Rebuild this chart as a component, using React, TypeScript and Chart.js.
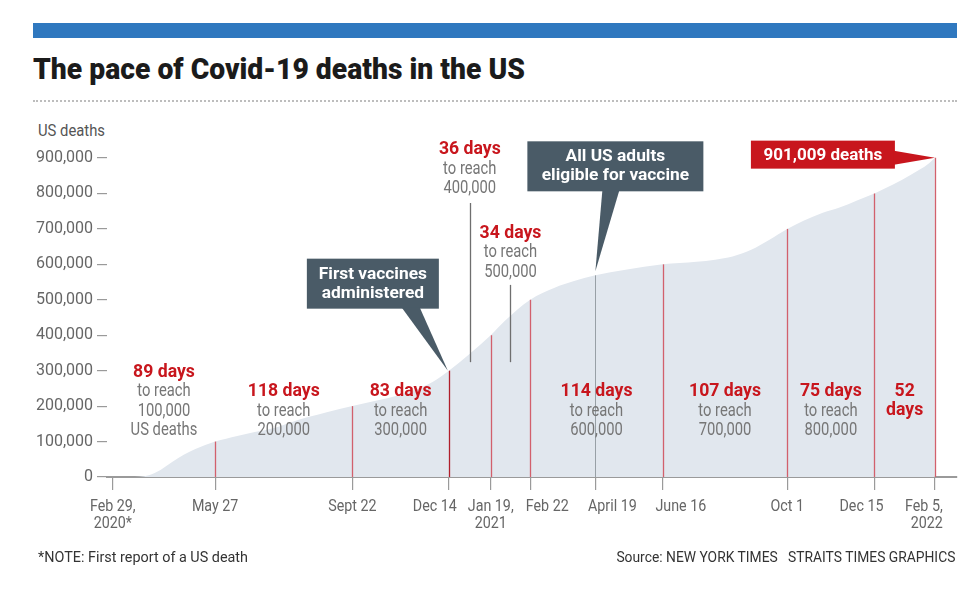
import React, { useEffect, useLayoutEffect, useRef } from "react";
import { Chart, registerables } from "chart.js";

Chart.register(...registerables);

// Days counted from Feb 29, 2020 (first reported US death)
const dayOffsets = [0, 15, 31, 41, 51, 61, 71, 88, 107, 122, 137, 153, 168, 184, 206, 229, 245, 260, 275, 289, 306, 325, 337, 359, 380, 396, 415, 441, 473, 502, 518, 533, 549, 564, 580, 594, 610, 625, 640, 655, 671, 686, 702, 707];
const cumulativeDeaths = [0, 70, 5100, 20000, 42000, 63000, 79000, 100000, 116000, 127000, 137000, 154000, 169000, 183000, 200000, 217000, 230000, 246000, 268000, 300000, 345000, 400000, 440000, 500000, 534000, 552000, 569000, 585000, 600000, 607000, 613000, 622000, 641000, 668000, 700000, 723000, 745000, 760000, 780000, 800000, 825000, 852000, 885000, 901009];

const tickDays = [0, 88, 206, 289, 325, 359, 415, 473, 580, 655, 707];
const tickLabels = [["Feb 29,", "2020*"], ["May 27"], ["Sept 22"], ["Dec 14"], ["Jan 19,", "2021"], ["Feb 22"], ["April 19"], ["June 16"], ["Oct 1"], ["Dec 15"], ["Feb 5,", "2022"]];
const yTickValues = [0, 100000, 200000, 300000, 400000, 500000, 600000, 700000, 800000, 900000];

const milestoneDays = [0, 88, 206, 289, 325, 359, 473, 580, 655, 707];
const milestoneValues = [0, 100000, 200000, 300000, 400000, 500000, 600000, 700000, 800000, 901009];
const paceDays = ["89 days", "118 days", "83 days", "36 days", "34 days", "114 days", "107 days", "75 days", "52"];
const paceTexts = [["to reach", "100,000", "US deaths"], ["to reach", "200,000"], ["to reach", "300,000"], ["to reach", "400,000"], ["to reach", "500,000"], ["to reach", "600,000"], ["to reach", "700,000"], ["to reach", "800,000"], ["days"]];

const firstVaccineDay = 289;
const firstVaccineValue = 300000;
const adultsEligibleDay = 415;
const adultsEligibleValue = 569000;
const latestDay = 707;
const latestValue = 901009;
const latestLabel = "901,009 deaths";

const FONT = "Roboto, 'Liberation Sans', sans-serif";
const RED = "#c8161d";
const SLATE = "#4a5b67";
const GRAY_TEXT = "#767676";
const AXIS_GRAY = "#9a9a9a";

function condensedText(ctx: any, text: string, x: number, y: number, font: string, color: string, sx: number, align: string) {
  ctx.save();
  ctx.font = font;
  ctx.fillStyle = color;
  ctx.textBaseline = "middle";
  ctx.textAlign = "left";
  const w = ctx.measureText(text).width * sx;
  const left = align === "center" ? x - w / 2 : align === "right" ? x - w : x;
  ctx.translate(left, y);
  ctx.scale(sx, 1);
  ctx.fillText(text, 0, 0);
  ctx.restore();
}

const annotationPlugin = {
  id: "annotations",
  afterDatasetsDraw(chart: any) {
    const { ctx, scales } = chart;
    const xs = scales.x;
    const ys = scales.y;
    const X = (d: number) => xs.getPixelForValue(d);
    const Y = (v: number) => ys.getPixelForValue(v);
    ctx.save();

    // milestone vertical lines
    for (let i = 1; i < milestoneDays.length; i++) {
      const px = Math.round(X(milestoneDays[i])) + 0.5;
      ctx.strokeStyle = milestoneDays[i] === firstVaccineDay ? "#b01f2b" : "#d2606c";
      ctx.lineWidth = 1.3;
      ctx.beginPath();
      ctx.moveTo(px, Y(0));
      ctx.lineTo(px, Y(milestoneValues[i]));
      ctx.stroke();
    }
    // April 19 gray line
    {
      const px = Math.round(X(adultsEligibleDay)) + 0.5;
      ctx.strokeStyle = "#98a0a6";
      ctx.lineWidth = 1;
      ctx.beginPath();
      ctx.moveTo(px, Y(0));
      ctx.lineTo(px, Y(adultsEligibleValue));
      ctx.stroke();
    }

    // x tick labels (condensed); some nudged sideways as in the print graphic
    const nudge = [0, 0, 0, -14, 0, 17, 17, 18, 0, -13, -11];
    tickDays.forEach((d, i) => {
      const lines = tickLabels[i];
      const cx = X(d) + nudge[i];
      const isLast = i === tickDays.length - 1;
      ctx.font = `17px ${FONT}`;
      const maxW = Math.max(...lines.map((t) => ctx.measureText(t).width * 0.84));
      lines.forEach((t, j) => {
        const yy = Y(0) + 30 + 17 * j;
        if (isLast) {
          condensedText(ctx, t, cx + maxW / 2, yy, `17px ${FONT}`, "#666", 0.84, "right");
        } else {
          condensedText(ctx, t, cx, yy, `17px ${FONT}`, "#666", 0.84, "center");
        }
      });
    });

    // pace labels
    const tops = [296000, 240000, 240000, 923000, 688000, 240000, 240000, 240000, 240000];
    const leaders: any = { 3: [773000, 324000], 4: [542000, 324000] };
    for (let i = 0; i < paceDays.length; i++) {
      const cx = X((milestoneDays[i] + milestoneDays[i + 1]) / 2);
      const cy = Y(tops[i]);
      condensedText(ctx, paceDays[i], cx, cy, `bold 18px ${FONT}`, RED, 0.98, "center");
      paceTexts[i].forEach((t, j) => {
        const yy = cy + 19.5 * (j + 1);
        if (i === paceDays.length - 1) {
          condensedText(ctx, t, cx, yy - 0.5, `bold 18px ${FONT}`, RED, 0.98, "center");
        } else {
          condensedText(ctx, t, cx, yy, `18px ${FONT}`, GRAY_TEXT, 0.82, "center");
        }
      });
      if (leaders[i]) {
        const px = Math.round(cx) + 0.5;
        ctx.strokeStyle = "#6f6f6f";
        ctx.lineWidth = 1.3;
        ctx.beginPath();
        ctx.moveTo(px, Y(leaders[i][0]));
        ctx.lineTo(px, Y(leaders[i][1]));
        ctx.stroke();
      }
    }

    // callout: First vaccines administered
    {
      const tx = X(firstVaccineDay);
      const ty = Y(firstVaccineValue);
      const l = tx - 142, r = tx - 10, t = ty - 112, b = ty - 62;
      ctx.fillStyle = SLATE;
      ctx.fillRect(l, t, r - l, b - t);
      ctx.beginPath();
      ctx.moveTo(tx - 47, b - 1);
      ctx.lineTo(tx - 29, b - 1);
      ctx.lineTo(tx - 1, ty);
      ctx.closePath();
      ctx.fill();
      condensedText(ctx, "First vaccines", (l + r) / 2, t + 16, `bold 17px ${FONT}`, "#fff", 1.02, "center");
      condensedText(ctx, "administered", (l + r) / 2, t + 35, `bold 17px ${FONT}`, "#fff", 1.02, "center");
    }
    // callout: All US adults eligible for vaccine
    {
      const tx = X(adultsEligibleDay);
      const ty = Y(adultsEligibleValue) - 4;
      const l = tx - 68, r = tx + 108, t = ty - 130, b = ty - 80;
      ctx.fillStyle = SLATE;
      ctx.fillRect(l, t, r - l, b - t);
      ctx.beginPath();
      ctx.moveTo(tx + 7, b - 1);
      ctx.lineTo(tx + 24, b - 1);
      ctx.lineTo(tx, ty);
      ctx.closePath();
      ctx.fill();
      condensedText(ctx, "All US adults", (l + r) / 2, t + 15, `bold 17px ${FONT}`, "#fff", 1.02, "center");
      condensedText(ctx, "eligible for vaccine", (l + r) / 2, t + 34, `bold 17px ${FONT}`, "#fff", 1.02, "center");
    }
    // flag: 901,009 deaths
    {
      const tx = X(latestDay);
      const ty = Y(latestValue);
      const l = tx - 184, r = tx - 40, t = ty - 17, b = ty + 11;
      ctx.fillStyle = RED;
      ctx.fillRect(l, t, r - l, b - t);
      ctx.beginPath();
      ctx.moveTo(r - 1, ty - 7);
      ctx.lineTo(tx, ty);
      ctx.lineTo(r - 1, ty + 7);
      ctx.closePath();
      ctx.fill();
      condensedText(ctx, latestLabel, (l + r) / 2, (t + b) / 2 + 1, `bold 17px ${FONT}`, "#fff", 1.0, "center");
    }
    ctx.restore();
  },
};

function FitText(props: { left?: number; right?: number; top: number; width: number; style: any; children: any }) {
  const ref = useRef<HTMLSpanElement | null>(null);
  useLayoutEffect(() => {
    const el = ref.current;
    if (!el) return;
    el.style.transform = "none";
    const w = el.getBoundingClientRect().width;
    if (w > 0) el.style.transform = `scaleX(${props.width / w})`;
  });
  const pos: any = { position: "absolute", top: props.top, whiteSpace: "pre", display: "inline-block" };
  if (props.left !== undefined) {
    pos.left = props.left;
    pos.transformOrigin = "left center";
  } else {
    pos.right = props.right;
    pos.transformOrigin = "right center";
  }
  return (
    <span ref={ref} style={{ ...pos, ...props.style }}>
      {props.children}
    </span>
  );
}

export default function App() {
  const canvasRef = useRef<HTMLCanvasElement | null>(null);

  useEffect(() => {
    const canvas = canvasRef.current;
    if (!canvas) return;
    const data = dayOffsets.map((d, i) => ({ x: d, y: cumulativeDeaths[i] }));
    const chart = new Chart(canvas, {
      type: "line",
      data: {
        datasets: [
          {
            data,
            fill: "origin",
            backgroundColor: "#e1e7ee",
            borderColor: "#e1e7ee",
            borderWidth: 0,
            pointRadius: 0,
            cubicInterpolationMode: "monotone",
          },
        ],
      },
      options: {
        animation: false,
        responsive: false,
        maintainAspectRatio: false,
        layout: { padding: { left: 0, right: 18, top: 48, bottom: 10 } },
        plugins: { legend: { display: false }, tooltip: { enabled: false }, title: { display: false } },
        scales: {
          x: {
            type: "linear",
            min: -5,
            max: 726,
            afterBuildTicks: (s: any) => {
              s.ticks = tickDays.map((v) => ({ value: v }));
            },
            afterFit: (s: any) => {
              s.height = 63;
            },
            grid: { display: true, drawOnChartArea: false, drawTicks: true, tickLength: 13, color: AXIS_GRAY, lineWidth: 1.2 },
            border: { display: true, color: AXIS_GRAY, width: 2 },
            ticks: { display: false, autoSkip: false },
          },
          y: {
            min: 0,
            max: 900000,
            afterBuildTicks: (s: any) => {
              s.ticks = yTickValues.map((v) => ({ value: v }));
            },
            afterFit: (s: any) => {
              s.width = 107;
            },
            grid: { display: true, drawOnChartArea: false, drawTicks: true, tickLength: 10, color: AXIS_GRAY, lineWidth: 1.2 },
            border: { display: false },
            ticks: {
              padding: 4,
              color: "#666",
              font: { family: FONT, size: 16 },
              callback: (v: any) => Number(v).toLocaleString("en-US"),
            },
          },
        },
      },
      plugins: [annotationPlugin],
    } as any);
    return () => chart.destroy();
  }, []);

  return (
    <div style={{ position: "absolute", left: 0, top: 0, width: 975, height: 607, background: "#fff", overflow: "hidden" }}>
      <div style={{ position: "absolute", left: 33, top: 23, width: 924, height: 15, background: "#2f78bf" }} />
      <FitText left={33} top={52} width={492} style={{ fontFamily: FONT, fontWeight: 900, fontSize: 29, lineHeight: "34px", color: "#1b1b1b" }}>
        The pace of Covid-19 deaths in the US
      </FitText>
      <div style={{ position: "absolute", left: 33, top: 100, width: 924, borderTop: "2px dotted #bdbdbd" }} />
      <FitText left={38} top={119} width={67} style={{ fontFamily: FONT, fontSize: 17, lineHeight: "22px", color: "#555" }}>
        US deaths
      </FitText>
      <canvas ref={canvasRef} width={975} height={440} style={{ position: "absolute", left: 0, top: 110, width: 975, height: 440 }} />
      <FitText left={38} top={548} width={210} style={{ fontFamily: FONT, fontSize: 15, lineHeight: "18px", color: "#333" }}>
        *NOTE: First report of a US death
      </FitText>
      <FitText right={20} top={548} width={339} style={{ fontFamily: FONT, fontSize: 15, lineHeight: "18px", color: "#333" }}>
        {"Source: NEW YORK TIMES   STRAITS TIMES GRAPHICS"}
      </FitText>
    </div>
  );
}
